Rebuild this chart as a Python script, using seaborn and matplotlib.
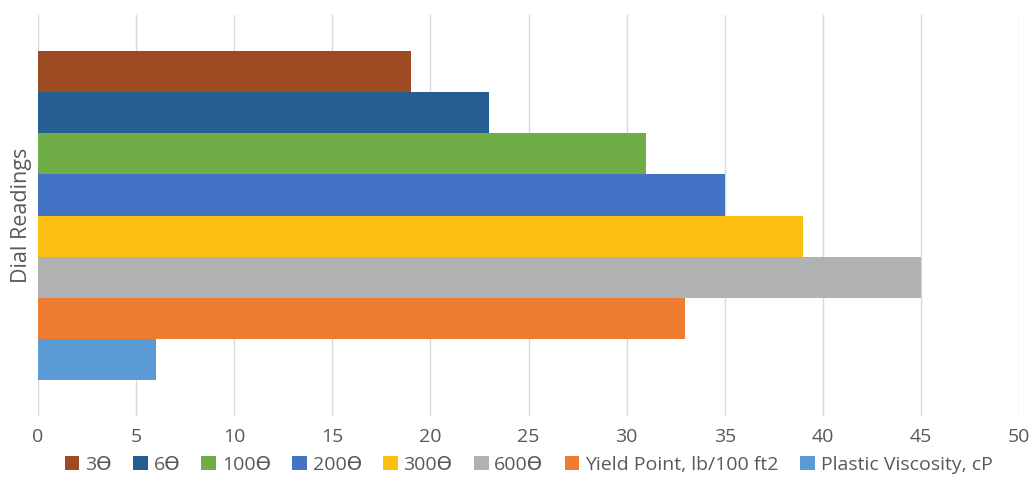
import pandas as pd
import seaborn as sns
import matplotlib.pyplot as plt

# Chart data
series = ["3ϴ", "6ϴ", "100ϴ", "200ϴ", "300ϴ", "600ϴ",
          "Yield Point, lb/100 ft2", "Plastic Viscosity, cP"]
values = [19, 23, 31, 35, 39, 45, 33, 6]
colors = ["#9E4A23", "#255E91", "#70AD47", "#4472C4",
          "#FCC012", "#B0B1B3", "#ED7D31", "#5B9BD5"]
category = "Dial Readings"

df = pd.DataFrame({"group": [category] * len(series),
                   "series": series, "value": values})

sns.set_theme(style="white")
plt.rcParams["font.family"] = ["Open Sans", "DejaVu Sans"]
text_color = "#595959"

fig = plt.figure(figsize=(10.33, 4.99), dpi=100)
ax = fig.add_axes([38 / 1033, 1 - 416 / 499, (1019 - 38) / 1033, (416 - 15) / 499])

sns.barplot(data=df, x="value", y="group", hue="series", hue_order=series,
            palette=colors, orient="h", width=0.82, saturation=1,
            linewidth=0, ax=ax, legend=True)

ax.set_xlim(0, 50)
ax.set_ylim(0.5, -0.5)
ax.set_xticks(range(0, 51, 5))
ax.grid(axis="x", color="#D9D9D9", linewidth=1)
ax.set_axisbelow(True)
for s in ax.spines.values():
    s.set_visible(False)
ax.set_yticks([])
ax.set_xlabel("")
ax.set_ylabel(category, fontsize=15.5, color=text_color, labelpad=4)
ax.tick_params(axis="x", length=0, labelsize=14, labelcolor=text_color, pad=9)

handles, labels = ax.get_legend_handles_labels()
ax.legend(handles, labels, loc="upper center", bbox_to_anchor=(0.5, -0.08),
          ncol=8, frameon=False, fontsize=14, labelcolor=text_color,
          handlelength=0.75, handleheight=0.75, handletextpad=0.3,
          columnspacing=1.1, borderaxespad=0)

fig.savefig("out.png", dpi=100)
